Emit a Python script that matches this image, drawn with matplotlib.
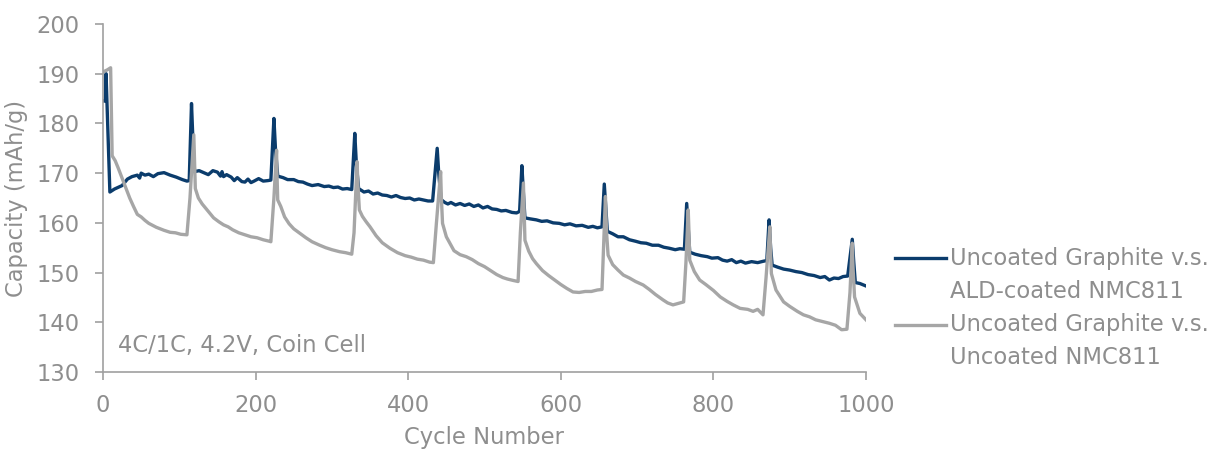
import matplotlib
matplotlib.use("Agg")
from matplotlib import pyplot as plt
from matplotlib.lines import Line2D

# ALD-coated NMC811 (navy)
ald_cycles = [0, 3, 4, 9, 15, 25, 32, 38, 45, 48, 50, 55, 60, 66, 72, 80, 88, 96, 104, 110, 113,
              116, 118, 120, 126, 132, 138, 144, 150, 154, 156, 158, 162, 168, 172, 176, 182, 186,
              190, 194, 198, 204, 210, 216, 220,
              224, 226, 229, 236, 242, 250, 256, 262, 268, 274, 282, 290, 296, 302, 308, 314, 320, 326,
              330, 332, 335, 342, 348, 354, 360, 366, 372, 378, 384, 390, 396, 402, 408, 414, 420, 426, 432,
              438, 440, 443, 448, 452, 456, 462, 468, 474, 480, 486, 492, 498, 504, 510, 516, 522, 528,
              536, 542, 546,
              549, 551, 553, 560, 568, 575, 582, 590, 598, 605, 612, 620, 628, 636, 642, 648, 654,
              657, 659, 661, 668, 675, 682, 690, 698, 705, 712, 720, 728, 735, 742, 750, 756, 762,
              765, 767, 769, 776, 784, 792, 798, 806, 812, 818, 824, 830, 836, 842, 850, 858, 866, 870,
              873, 875, 877, 884, 892, 900, 908, 916, 924, 932, 940, 946, 952, 958, 964, 970, 976,
              982, 984, 986, 992, 1000]
ald_capacity = [184.5, 184.5, 190.0, 166.2, 166.8, 167.5, 168.8, 169.3, 169.6, 169.0, 170.0, 169.6, 169.8,
                169.3, 169.9, 170.1, 169.6, 169.2, 168.7, 168.4, 168.5,
                184.0, 176.0, 170.3, 170.5, 170.1, 169.7, 170.5, 170.2, 169.4, 170.3, 169.3, 169.7, 169.2,
                168.5, 169.1, 168.3, 168.2, 168.8, 168.1, 168.4, 168.9, 168.4, 168.5, 168.6,
                181.0, 175.0, 169.4, 169.1, 168.7, 168.7, 168.3, 168.2, 167.8, 167.5, 167.7, 167.3, 167.4,
                167.1, 167.2, 166.8, 166.9, 166.7,
                178.0, 172.0, 166.9, 166.2, 166.4, 165.8, 166.0, 165.6, 165.5, 165.2, 165.5, 165.1, 164.9,
                165.0, 164.6, 164.8, 164.6, 164.4, 164.4,
                175.0, 170.0, 164.7, 164.1, 163.8, 164.1, 163.6, 163.9, 163.5, 163.8, 163.3, 163.6, 163.0,
                163.3, 162.8, 162.7, 162.4, 162.5, 162.1, 162.0, 162.3,
                171.5, 166.0, 161.0, 160.8, 160.6, 160.3, 160.4, 160.0, 159.9, 159.6, 159.8, 159.4, 159.5,
                159.1, 159.3, 159.0, 159.2,
                167.8, 163.0, 158.3, 157.8, 157.2, 157.2, 156.6, 156.3, 156.0, 155.9, 155.5, 155.5, 155.1,
                154.9, 154.6, 154.8, 154.7,
                163.9, 159.0, 154.1, 153.7, 153.4, 153.2, 152.9, 153.0, 152.5, 152.3, 152.6, 152.0, 152.3,
                151.9, 152.2, 152.0, 152.3, 152.4,
                160.6, 155.0, 151.5, 151.1, 150.7, 150.5, 150.2, 150.0, 149.6, 149.4, 149.0, 149.2, 148.5,
                148.9, 148.8, 149.2, 149.3,
                156.7, 152.0, 148.0, 147.8, 147.3]

# Uncoated NMC811 (gray)
unc_cycles = [0, 2, 6, 10, 11, 12, 16, 20, 25, 30, 35, 40, 45, 50, 55, 60, 65, 70, 75, 80, 88, 95, 102, 110,
              114, 119, 120, 121, 125, 130, 138, 145, 152, 158, 164, 170, 178, 186, 194, 202, 210, 218, 220,
              224, 227.5, 228, 229, 233, 238, 244, 250, 258, 266, 274, 284, 292, 300, 310, 318, 326,
              329, 333, 334, 336, 340, 345, 350, 358, 366, 376, 386, 396, 404, 412, 420, 428, 433,
              437, 442.5, 443.5, 445, 450, 455, 460, 468, 476, 484, 492, 500, 508, 516, 524, 530, 538, 544,
              547, 551, 552, 553, 558, 563, 568, 576, 584, 592, 600, 608, 616, 624, 632, 640, 648, 654,
              656, 658.5, 660, 662, 668, 675, 682, 690, 698, 708, 716, 724, 734, 740, 747, 754, 761,
              764, 767, 768, 769, 775, 782, 790, 800, 809, 818, 826, 835, 845, 852, 858, 865,
              869, 874, 875, 876, 882, 892, 900, 910, 918, 926, 934, 944, 952, 960, 968, 975,
              979, 982, 983, 985, 992, 1000]
unc_capacity = [190.3, 190.5, 190.8, 191.2, 182.0, 173.5, 172.5, 171.0, 169.0, 167.0, 165.0, 163.3, 161.7,
                161.2, 160.5, 159.9, 159.5, 159.1, 158.8, 158.5, 158.1, 158.0, 157.7, 157.6,
                165.0, 177.7, 172.0, 166.9, 165.0, 163.8, 162.3, 161.0, 160.2, 159.6, 159.2, 158.6, 158.0,
                157.6, 157.2, 157.0, 156.6, 156.3, 156.2,
                165.0, 174.6, 170.0, 164.6, 163.3, 161.2, 159.8, 158.8, 157.9, 157.0, 156.2, 155.5, 155.0,
                154.6, 154.2, 154.0, 153.7,
                158.0, 172.3, 168.0, 162.6, 161.3, 160.2, 159.2, 157.4, 156.0, 154.9, 154.0, 153.4, 153.1,
                152.7, 152.5, 152.1, 152.0,
                160.0, 170.3, 165.0, 159.9, 157.2, 155.8, 154.4, 153.6, 153.2, 152.6, 151.8, 151.2, 150.4,
                149.6, 149.0, 148.7, 148.4, 148.2,
                158.0, 168.0, 162.0, 156.5, 154.3, 152.8, 151.8, 150.4, 149.4, 148.5, 147.6, 146.8, 146.1,
                146.0, 146.2, 146.2, 146.5, 146.6,
                155.0, 165.3, 158.0, 153.5, 151.6, 150.5, 149.5, 148.9, 148.2, 147.5, 146.6, 145.6, 144.5,
                143.9, 143.5, 143.8, 144.1,
                152.0, 162.6, 158.0, 152.5, 150.2, 148.5, 147.6, 146.4, 145.1, 144.2, 143.5, 142.8, 142.6,
                142.2, 142.6, 141.5,
                149.0, 159.2, 154.0, 149.8, 146.5, 144.1, 143.2, 142.2, 141.5, 141.1, 140.5, 140.1, 139.8,
                139.4, 138.5, 138.6,
                146.0, 155.9, 151.0, 145.1, 141.8, 140.5]

legend_lines = [["Uncoated Graphite v.s.", "ALD-coated NMC811"],
                ["Uncoated Graphite v.s.", "Uncoated NMC811"]]

NAVY = "#0b3c6c"
GRAY = "#a6a6a6"
TXT = "#8e8e8e"
W, H = 1211, 451
FS = 16.3

plt.rcParams['font.family'] = ['DejaVu Sans']

fig = plt.figure(figsize=(W / 100, H / 100), dpi=100)
ax = fig.add_axes([103 / W, 1 - 372 / H, (866 - 103) / W, (372 - 24) / H])

ax.plot(ald_cycles, ald_capacity, color=NAVY, lw=2.4, solid_joinstyle="round")
ax.plot(unc_cycles, unc_capacity, color=GRAY, lw=2.4, solid_joinstyle="round")

ax.set_xlim(0, 1000)
ax.set_ylim(130, 200)
ax.set_xticks(range(0, 1001, 200))
ax.set_yticks(range(130, 201, 10))
for s in ["top", "right"]:
    ax.spines[s].set_visible(False)
for s in ["left", "bottom"]:
    ax.spines[s].set_color("#a0a0a0")
    ax.spines[s].set_linewidth(1.2)
ax.tick_params(colors="#a0a0a0", labelcolor=TXT, labelsize=FS, length=6, width=1.2)
ax.tick_params(axis="x", pad=10)
ax.tick_params(axis="y", pad=11)

ax.set_ylabel("Capacity (mAh/g)", color=TXT, fontsize=FS, labelpad=6)
ax.set_xlabel("Cycle Number", color=TXT, fontsize=FS, labelpad=6)
ax.text(0.02, 0.075, "4C/1C, 4.2V, Coin Cell", transform=ax.transAxes, color=TXT,
        fontsize=FS, va="center", ha="left")

# legend drawn by hand so the handle sits beside the first label line
for (l1, l2), c, y in zip(legend_lines, [NAVY, GRAY], [258, 325]):
    fig.add_artist(Line2D([895 / W, 946 / W], [1 - y / H] * 2, color=c, lw=2.4,
                          transform=fig.transFigure))
    fig.text(950 / W, 1 - y / H, l1, color=TXT, fontsize=FS, va="center", ha="left")
    fig.text(950 / W, 1 - (y + 33) / H, l2, color=TXT, fontsize=FS, va="center", ha="left")

plt.savefig("out.png", dpi=100)
